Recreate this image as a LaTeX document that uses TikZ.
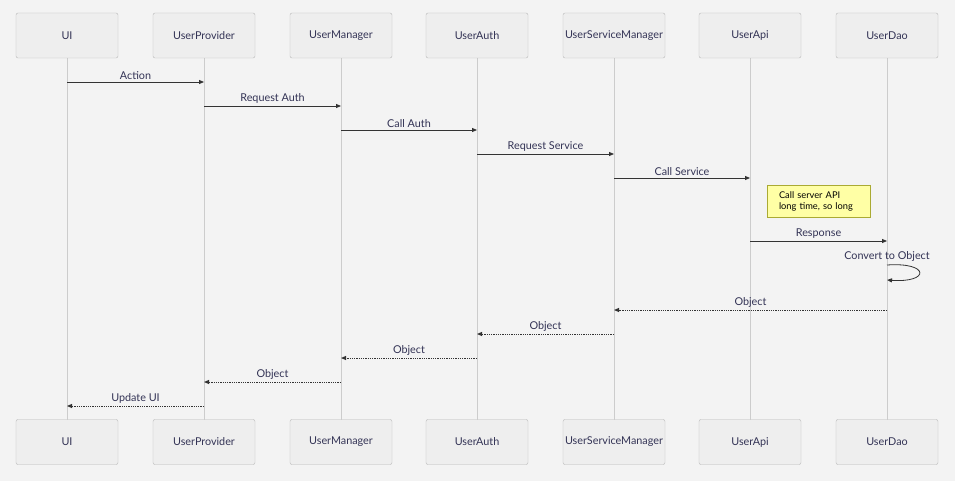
\documentclass[tikz,border=0pt]{standalone}
\usepackage{fontspec}
\setmainfont{Lato}
\usetikzlibrary{arrows.meta}
\definecolor{bgcol}{HTML}{F3F3F3}
\definecolor{boxfill}{HTML}{EEEEEE}
\definecolor{boxline}{HTML}{B8B8B8}
\definecolor{lifecol}{HTML}{CCCCCC}
\definecolor{msgcol}{HTML}{333333}
\definecolor{txtcol}{HTML}{333355}
\definecolor{notefill}{HTML}{FFFFA5}
\definecolor{noteline}{HTML}{AAAA33}
\tikzset{
  actor/.style={draw=boxline,fill=boxfill,rounded corners=2pt,minimum width=102pt,minimum height=45pt,font=\fontsize{10.8}{13}\selectfont,text=txtcol,inner sep=0pt},
  life/.style={draw=lifecol,line width=0.8pt},
  msg/.style={draw=msgcol,line width=0.8pt,-{Triangle[length=5pt,width=4pt]}},
  reply/.style={msg,densely dotted,line width=1pt},
  lbl/.style={above=1pt,midway,font=\fontsize{10.8}{13}\selectfont,text=txtcol,inner sep=1pt},
  notebox/.style={draw=noteline,fill=notefill,text width=103pt,minimum height=32pt,font=\fontsize{9.3}{11}\selectfont,align=left,text=black,inner sep=0pt}
}
\begin{document}
\begin{tikzpicture}[x=1pt,y=-1pt]
    \fill[bgcol] (0,0) rectangle (955,481);
    \useasboundingbox (0,0) rectangle (955,481);

    % participants, top and bottom
    \foreach \name/\txt/\xx in {ui/UI/67,prov/UserProvider/204,mgr/UserManager/341,auth/UserAuth/477,svc/UserServiceManager/614,api/UserApi/750,dao/UserDao/887}{
        \draw[life] (\xx,58) -- (\xx,420);
        \node[actor] (\name) at (\xx,35.5) {\txt};
        \node[actor] (\name b) at (\xx,442) {\txt};
    }

    % calls
    \draw[msg] (ui |- 0,82) -- node[lbl] {Action} (prov |- 0,82);
    \draw[msg] (prov |- 0,106) -- node[lbl] {Request Auth} (mgr |- 0,106);
    \draw[msg] (mgr |- 0,130) -- node[lbl] {Call Auth} (auth |- 0,130);
    \draw[msg] (auth |- 0,154) -- node[lbl] {Request Service} (svc |- 0,154);
    \draw[msg] (svc |- 0,178) -- node[lbl] {Call Service} (api |- 0,178);

    \node[notebox] (note) at (818.5,201) {\hspace*{12pt}Call server API\\\hspace*{12pt}long time, so long};

    \draw[msg] (api |- 0,241) -- node[lbl] {Response} (dao |- 0,241);

    % self call
    \coordinate (loopa) at (887,265);
    \coordinate (loopb) at (887,280);
    \node[font=\fontsize{10.8}{13}\selectfont,text=txtcol] (selflbl) at (887,257) {Convert to Object};
    \draw[msg] (loopa) .. controls (930,262) and (930,283) .. (loopb);

    % replies
    \draw[reply] (dao |- 0,310) -- node[lbl] {Object} (svc |- 0,310);
    \draw[reply] (svc |- 0,334) -- node[lbl] {Object} (auth |- 0,334);
    \draw[reply] (auth |- 0,358) -- node[lbl] {Object} (mgr |- 0,358);
    \draw[reply] (mgr |- 0,382) -- node[lbl] {Object} (prov |- 0,382);
    \draw[reply] (prov |- 0,406) -- node[lbl] {Update UI} (ui |- 0,406);
\end{tikzpicture}
\end{document}
